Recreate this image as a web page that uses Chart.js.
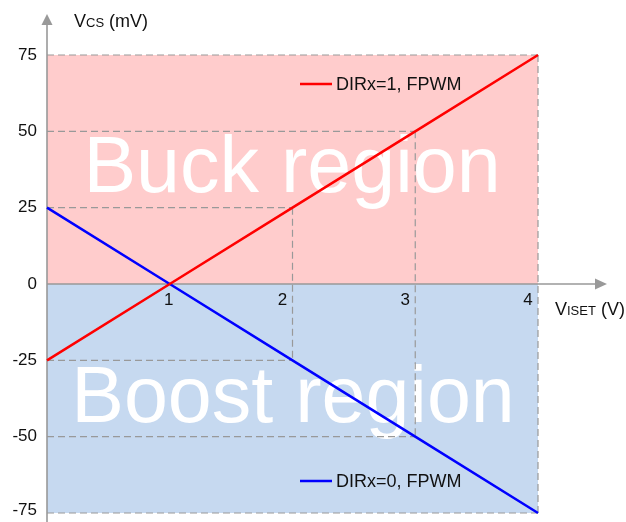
<!DOCTYPE html>
<html>
<head>
<meta charset="utf-8">
<script src="https://cdn.jsdelivr.net/npm/chart.js@4.4.1/dist/chart.umd.min.js"></script>
<style>
html,body{margin:0;padding:0;background:#fff;}
canvas{display:block;}
</style>
</head>
<body>
<canvas id="c" width="626" height="522"></canvas>
<script>
// ---- data ----
const xValues = [0, 1, 2, 3, 4];
const buckValues = [-25, 0, 25, 50, 75];   // DIRx=1, FPWM
const boostValues = [25, 0, -25, -50, -75]; // DIRx=0, FPWM
const xTickLabels = ['1', '2', '3', '4'];
const xTickValues = [1, 2, 3, 4];
const yTickValues = [75, 50, 25, 0, -25, -50, -75];
const yTickLabels = ['75', '50', '25', '0', '-25', '-50', '-75'];
const guideX = [2, 3, 4];
const seriesNames = ['DIRx=1, FPWM', 'DIRx=0, FPWM'];
const regionNames = ['Buck region', 'Boost region'];

const FONT = '"Liberation Sans", Arial, sans-serif';
const GREY = '#999999';

function pts(vals){ return xValues.map((x,i)=>({x:x, y:vals[i]})); }

const decor = {
  id: 'decor',
  beforeDatasetsDraw(chart){
    const ctx = chart.ctx, xs = chart.scales.x, ys = chart.scales.y;
    const X = v => xs.getPixelForValue(v), Y = v => ys.getPixelForValue(v);
    const x0 = X(0), x4 = X(4);
    ctx.save();
    // region backgrounds
    ctx.fillStyle = '#FFCCCC';
    ctx.fillRect(x0, Y(75), x4 - x0, Y(0) - Y(75));
    ctx.fillStyle = '#C6D9F0';
    ctx.fillRect(x0, Y(0), x4 - x0, Y(-75) - Y(0));
    // big region text
    ctx.fillStyle = '#ffffff';
    ctx.textAlign = 'center';
    ctx.textBaseline = 'alphabetic';
    ctx.font = '79px ' + FONT;
    ctx.fillText(regionNames[0], 292, 192);
    ctx.fillText(regionNames[1], 293, 422);
    // dashed guides
    ctx.strokeStyle = GREY;
    ctx.lineWidth = 1.2;
    ctx.setLineDash([7, 4]);
    guideX.forEach(gx => {
      const i = xValues.indexOf(gx);
      const top = buckValues[i], bot = boostValues[i];
      ctx.beginPath();
      ctx.moveTo(x0, Y(top)); ctx.lineTo(X(gx), Y(top));
      ctx.moveTo(x0, Y(bot)); ctx.lineTo(X(gx), Y(bot));
      ctx.moveTo(X(gx), Y(top)); ctx.lineTo(X(gx), Y(bot));
      ctx.stroke();
    });
    ctx.setLineDash([]);
    // axes
    ctx.strokeStyle = GREY;
    ctx.fillStyle = GREY;
    ctx.lineWidth = 1.6;
    const yAxisBottom = 522, yTip = 14;
    ctx.beginPath();
    ctx.moveTo(x0, yAxisBottom); ctx.lineTo(x0, yTip + 8);
    ctx.stroke();
    ctx.beginPath();
    ctx.moveTo(x0, yTip); ctx.lineTo(x0 - 5.5, yTip + 11); ctx.lineTo(x0 + 5.5, yTip + 11); ctx.closePath();
    ctx.fill();
    const yz = Y(0), xTip = 607;
    ctx.beginPath();
    ctx.moveTo(x0, yz); ctx.lineTo(xTip - 8, yz);
    ctx.stroke();
    ctx.beginPath();
    ctx.moveTo(xTip, yz); ctx.lineTo(xTip - 12, yz - 5.5); ctx.lineTo(xTip - 12, yz + 5.5); ctx.closePath();
    ctx.fill();
    // tick labels
    ctx.fillStyle = '#111111';
    ctx.font = '17px ' + FONT;
    ctx.textAlign = 'right';
    ctx.textBaseline = 'middle';
    yTickValues.forEach((v, i) => {
      let yy = Y(v);
      if (v === -75) yy -= 3;
      ctx.fillText(yTickLabels[i], 37, yy);
    });
    ctx.textAlign = 'center';
    xTickValues.forEach((v, i) => {
      const off = v === 1 ? -1 : -10;
      ctx.fillText(xTickLabels[i], X(v) + off, yz + 16);
    });
    // axis titles with subscripts
    ctx.textAlign = 'left';
    ctx.textBaseline = 'alphabetic';
    function sub(x, y, a, s, b){
      ctx.font = '18px ' + FONT; ctx.fillText(a, x, y); x += ctx.measureText(a).width;
      ctx.font = '13px ' + FONT; ctx.fillText(s, x, y); x += ctx.measureText(s).width;
      ctx.font = '18px ' + FONT; ctx.fillText(b, x, y);
    }
    sub(74, 27, 'V', 'CS', ' (mV)');
    sub(555, 315, 'V', 'ISET', ' (V)');
    ctx.restore();
  },
  afterDatasetsDraw(chart){
    const ctx = chart.ctx;
    ctx.save();
    const items = [
      {y: 84, color: '#FF0000', text: seriesNames[0]},
      {y: 481, color: '#0000FF', text: seriesNames[1]}
    ];
    ctx.font = '18px ' + FONT;
    ctx.textAlign = 'left';
    ctx.textBaseline = 'middle';
    items.forEach(it => {
      ctx.strokeStyle = it.color;
      ctx.lineWidth = 2.5;
      ctx.beginPath(); ctx.moveTo(300, it.y); ctx.lineTo(332, it.y); ctx.stroke();
      ctx.fillStyle = '#111111';
      ctx.fillText(it.text, 336, it.y + 1);
    });
    ctx.restore();
  }
};

new Chart(document.getElementById('c'), {
  type: 'line',
  data: {
    datasets: [
      {label: seriesNames[0], data: pts(buckValues), borderColor: '#FF0000', borderWidth: 2.5, pointRadius: 0, clip: false, fill: false, tension: 0},
      {label: seriesNames[1], data: pts(boostValues), borderColor: '#0000FF', borderWidth: 2.5, pointRadius: 0, clip: false, fill: false, tension: 0}
    ]
  },
  options: {
    responsive: false,
    animation: false,
    events: [],
    layout: {padding: {left: 47, right: 88, top: 55, bottom: 9}},
    plugins: {legend: {display: false}, tooltip: {enabled: false}},
    scales: {
      x: {type: 'linear', min: 0, max: 4, display: false},
      y: {type: 'linear', min: -75, max: 75, display: false}
    }
  },
  plugins: [decor]
});
</script>
</body>
</html>
